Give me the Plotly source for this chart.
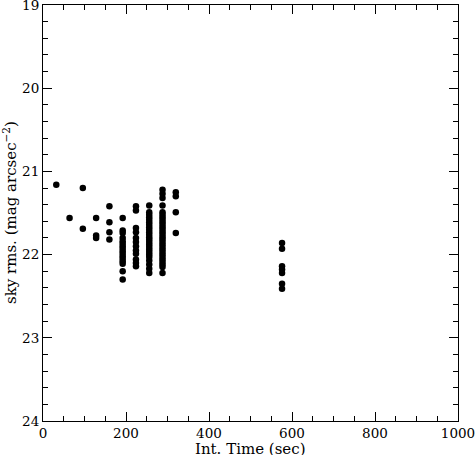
import plotly.graph_objects as go

# Integration time (sec) for each exposure, and sky rms (mag arcsec^-2)
int_time = (
    [32]
    + [64]
    + [96] * 2
    + [128] * 3
    + [160] * 4
    + [192] * 16
    + [224] * 12
    + [256] * 24
    + [288] * 28
    + [320] * 4
    + [576] * 7
)
sky_rms = (
    [21.16]
    + [21.56]
    + [21.20, 21.69]
    + [21.56, 21.77, 21.80]
    + [21.42, 21.61, 21.73, 21.82]
    + [21.56, 21.71, 21.74, 21.80, 21.84, 21.87, 21.90, 21.93, 21.96, 21.99,
       22.02, 22.05, 22.08, 22.11, 22.20, 22.30]
    + [21.42, 21.47, 21.68, 21.73, 21.80, 21.85, 21.90, 21.95, 21.99, 22.06,
       22.10, 22.14]
    + [21.41, 21.49, 21.52, 21.55, 21.58, 21.61, 21.64, 21.67, 21.70, 21.73,
       21.76, 21.79, 21.82, 21.85, 21.88, 21.91, 21.94, 21.97, 22.00, 22.03,
       22.07, 22.12, 22.17, 22.22]
    + [21.22, 21.27, 21.32, 21.41, 21.49, 21.52, 21.55, 21.58, 21.61, 21.64,
       21.67, 21.70, 21.73, 21.76, 21.79, 21.82, 21.85, 21.88, 21.91, 21.94,
       21.97, 22.00, 22.03, 22.06, 22.09, 22.12, 22.15, 22.22]
    + [21.25, 21.30, 21.49, 21.74]
    + [21.86, 21.93, 22.14, 22.18, 22.22, 22.35, 22.41]
)

x_ticks = [0, 200, 400, 600, 800, 1000]
y_ticks = [19, 20, 21, 22, 23, 24]

font_family = "DejaVu Serif, Liberation Serif, serif"

fig = go.Figure(
    go.Scatter(
        x=int_time,
        y=sky_rms,
        mode="markers",
        marker=dict(color="black", size=6.5, line=dict(width=0)),
        showlegend=False,
        cliponaxis=False,
    )
)

axis_common = dict(
    showgrid=False,
    zeroline=False,
    showline=True,
    linecolor="black",
    linewidth=1,
    mirror="ticks",
    ticks="inside",
    ticklen=9,
    tickwidth=1,
    tickcolor="black",
    automargin=False,
    ticklabeloverflow="allow",
    tickfont=dict(family=font_family, size=13.5, color="black"),
)

fig.update_xaxes(
    range=[0, 1000],
    tickvals=x_ticks,
    ticktext=[str(v) for v in x_ticks],
    minor=dict(dtick=50, ticks="inside", ticklen=5, tickcolor="black", tickwidth=1),
    **axis_common,
)
fig.update_yaxes(
    range=[24, 19],
    tickvals=y_ticks,
    ticktext=[str(v) for v in y_ticks],
    minor=dict(dtick=0.2, ticks="inside", ticklen=5, tickcolor="black", tickwidth=1),
    **axis_common,
)

fig.add_annotation(
    text="Int. Time (sec)", xref="paper", yref="paper", x=0.5, y=0,
    yshift=-17, xanchor="center", yanchor="top", showarrow=False,
    font=dict(family=font_family, size=15, color="black"),
)
fig.add_annotation(
    text="sky rms. (mag arcsec<sup>−2</sup>)", xref="paper", yref="paper", x=0, y=0.5,
    xshift=-33, xanchor="center", yanchor="middle", textangle=-90, showarrow=False,
    font=dict(family=font_family, size=15, color="black"),
)

fig.update_layout(
    width=476,
    height=455,
    margin=dict(l=43, r=18, t=5, b=34),
    paper_bgcolor="white",
    plot_bgcolor="white",
)

fig.write_html(
    "out.html",
    config={"displayModeBar": False},
    post_script="document.body.style.margin='0';",
)
